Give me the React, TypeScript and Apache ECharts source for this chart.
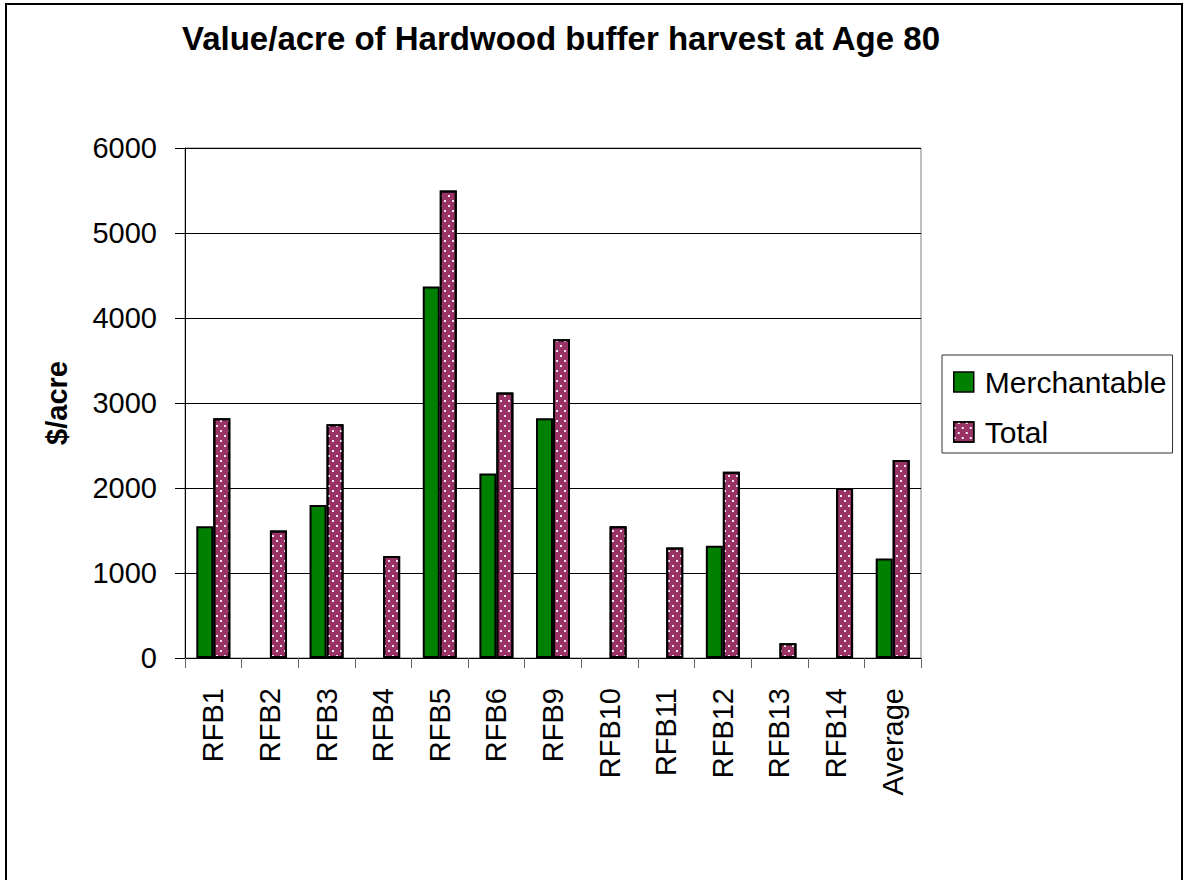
import React, { useEffect, useRef } from "react";
import * as echarts from "echarts";

const categories = ["RFB1", "RFB2", "RFB3", "RFB4", "RFB5", "RFB6", "RFB9", "RFB10", "RFB11", "RFB12", "RFB13", "RFB14", "Average"];
const merchantable = [1550, null, 1800, null, 4370, 2170, 2820, null, null, 1320, null, null, 1170];
const total = [2820, 1500, 2750, 1200, 5500, 3125, 3750, 1550, 1300, 2190, 175, 2000, 2330];
const yTicks = { min: 0, max: 6000, interval: 1000 };
const titleText = "Value/acre of Hardwood buffer harvest at Age 80";
const yName = "$/acre";
const seriesNames = ["Merchantable", "Total"];

const FONT = "'Liberation Sans', Arial, sans-serif";

export default function App() {
  const ref = useRef<HTMLDivElement>(null);
  useEffect(() => {
    document.body.style.margin = "0";
    const chart = echarts.init(ref.current!, null, { renderer: "svg" });
    chart.setOption({
      animation: false,
      backgroundColor: "#ffffff",
      textStyle: { fontFamily: FONT },
      graphic: [
        {
          type: "rect",
          shape: { x: 6, y: 4, width: 1176, height: 900 },
          style: { fill: "none", stroke: "#000", lineWidth: 2 },
          silent: true,
        },
        {
          type: "text",
          x: 561,
          y: 38,
          style: {
            text: titleText,
            font: `bold 33px ${FONT}`,
            fill: "#000",
            textAlign: "center",
            textVerticalAlign: "middle",
          },
        },
      ],
      legend: {
        orient: "vertical",
        left: 942,
        top: 355,
        padding: [12, 6, 6, 11],
        itemWidth: 20,
        itemHeight: 20,
        itemGap: 20,
        itemStyle: { borderColor: "#000", borderWidth: 1.5 },
        borderColor: "#333",
        borderWidth: 1,
        textStyle: { fontSize: 30, color: "#000", fontFamily: FONT, lineHeight: 30, padding: [0, 0, 0, 6] },
        data: seriesNames.map((n) => ({ name: n, icon: "rect" })),
      },
      grid: {
        left: 185,
        top: 148,
        width: 736,
        height: 510,
        show: true,
        borderColor: "#808080",
        borderWidth: 1,
        containLabel: false,
      },
      xAxis: {
        type: "category",
        data: categories,
        boundaryGap: true,
        axisLine: { lineStyle: { color: "#000", width: 1 } },
        axisTick: { show: true, length: 10, lineStyle: { color: "#666" } },
        axisLabel: { rotate: 90, fontSize: 29, color: "#000", margin: 30, interval: 0, fontFamily: FONT },
      },
      yAxis: {
        type: "value",
        min: yTicks.min,
        max: yTicks.max,
        interval: yTicks.interval,
        name: yName,
        nameLocation: "middle",
        nameRotate: 90,
        nameGap: 114,
        nameTextStyle: { fontSize: 29, fontWeight: "bold", color: "#000", fontFamily: FONT },
        axisLine: { show: true, lineStyle: { color: "#000", width: 1 } },
        axisTick: { show: true, length: 10, lineStyle: { color: "#000" } },
        axisLabel: { fontSize: 29, color: "#000", margin: 28, fontFamily: FONT, formatter: (v: number) => String(v) },
        splitLine: { show: true, lineStyle: { color: "#000", width: 1 } },
      },
      series: [
        {
          name: seriesNames[0],
          type: "bar",
          data: merchantable,
          barWidth: 17,
          barGap: "0%",
          itemStyle: { color: "#008000", borderColor: "#000", borderWidth: 2 },
        },
        {
          name: seriesNames[1],
          type: "bar",
          data: total,
          barWidth: 17,
          barGap: "0%",
          itemStyle: {
            color: "#993366",
            borderColor: "#000",
            borderWidth: 2,
            decal: {
              symbol: "rect",
              symbolSize: 1,
              color: "rgba(255,255,255,0.9)",
              dashArrayX: [
                [2, 6],
                [0, 4, 2, 2],
              ],
              dashArrayY: [2, 3],
              rotation: 0,
            },
          },
        },
      ],
    });
    return () => chart.dispose();
  }, []);
  return <div ref={ref} style={{ width: 1185, height: 880, position: "absolute", left: 0, top: 0 }} />;
}
